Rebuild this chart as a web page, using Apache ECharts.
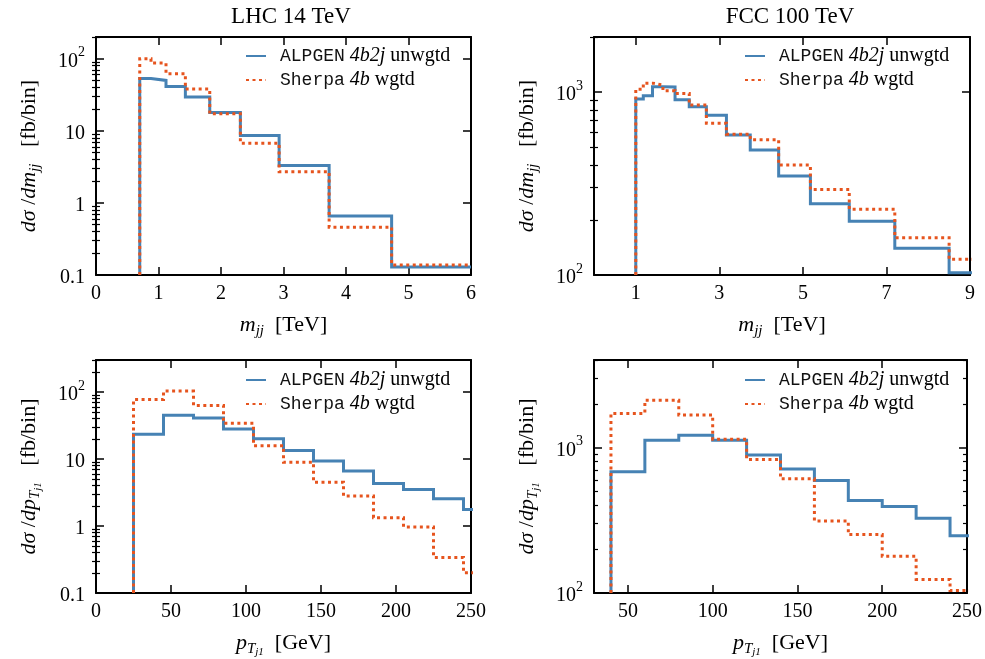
<!DOCTYPE html>
<html><head><meta charset="utf-8">
<script src="https://cdn.jsdelivr.net/npm/echarts@6/dist/echarts.min.js"></script>
<style>html,body{margin:0;padding:0;background:#fff}#c{width:985px;height:659px}</style>
</head><body><div id="c"></div>
<script>
// ---- data ----
const seriesNames = ['ALPGEN 4b2j unwgtd', 'Sherpa 4b wgtd'];
const panelTitles = ['LHC 14 TeV', 'FCC 100 TeV'];

const lhcMjjEdges = [0.70, 0.88, 1.12, 1.43, 1.82, 2.31, 2.93, 3.73, 4.73, 6.0];
const lhcMjjAlpgen = [53, 50, 41, 29.5, 18, 8.6, 3.3, 0.66, 0.129];
const lhcMjjSherpa = [100, 87, 62, 38, 17.2, 6.7, 2.7, 0.46, 0.138];

const fccMjjEdges = [1.0, 1.18, 1.40, 1.65, 1.94, 2.28, 2.69, 3.17, 3.74, 4.42, 5.18, 6.11, 7.2, 8.5, 10.0];
const fccMjjAlpgen = [916, 955, 1070, 1065, 908, 832, 747, 583, 482, 348, 245, 197, 140, 103];
const fccMjjSherpa = [1035, 1119, 1092, 1018, 982, 850, 676, 588, 549, 399, 293, 229, 160, 122];

const lhcPtEdges = [25, 45, 65, 85, 105, 125, 145, 165, 185, 205, 225, 245, 265];
const lhcPtAlpgen = [23.4, 45, 41, 28, 20, 13.4, 9.3, 6.6, 4.3, 3.5, 2.55, 1.76];
const lhcPtSherpa = [77, 103, 63, 34, 15.8, 8.9, 4.5, 2.8, 1.33, 0.97, 0.34, 0.2];

const fccPtEdges = [40, 60, 80, 100, 120, 140, 160, 180, 200, 220, 240, 260];
const fccPtAlpgen = [683, 1122, 1213, 1121, 890, 713, 594, 433, 393, 327, 248];
const fccPtSherpa = [1718, 2115, 1676, 1139, 828, 610, 313, 252, 179, 124, 104];

const lhcMjjXTicks = [0, 1, 2, 3, 4, 5, 6];
const fccMjjXTicks = [1, 3, 5, 7, 9];
const lhcPtXTicks = [0, 50, 100, 150, 200, 250];
const fccPtXTicks = [50, 100, 150, 200, 250];
const lhcYTicks = [0.1, 1, 10, 100];
const fccYTicks = [100, 1000];

// ---- layout / style ----
const BLUE = '#4682b4', RED = '#e6541e';
const SERIF = 'Liberation Serif', MONO = 'Liberation Mono';

const panels = [
  {grid:{left:96, top:37, width:375, height:238}, edges:lhcMjjEdges, a:lhcMjjAlpgen, s:lhcMjjSherpa,
   xmin:0, xmax:6, xt:lhcMjjXTicks, ymin:0.1, ymax:200, yt:lhcYTicks,
   xname:'{i|m}{s|jj}  [TeV]', yname:'{i|dσ} /{i|dm}{s|jj}   [fb/bin]', legX:240, legY:40},
  {grid:{left:594, top:37, width:376, height:238}, edges:fccMjjEdges, a:fccMjjAlpgen, s:fccMjjSherpa,
   xmin:0, xmax:9, xt:fccMjjXTicks, ymin:100, ymax:2000, yt:fccYTicks,
   xname:'{i|m}{s|jj}  [TeV]', yname:'{i|dσ} /{i|dm}{s|jj}   [fb/bin]', legX:739, legY:40},
  {grid:{left:96, top:360, width:375, height:238}, edges:lhcPtEdges, a:lhcPtAlpgen, s:lhcPtSherpa,
   xmin:0, xmax:250, xt:lhcPtXTicks, ymin:0.1, ymax:300, yt:lhcYTicks,
   xname:'{i|p}{s|T}{ss|j1}  [GeV]', yname:'{i|dσ} /{i|dp}{s|T}{ss|j1}   [fb/bin]', legX:240, legY:364},
  {grid:{left:594, top:360, width:376, height:238}, edges:fccPtEdges, a:fccPtAlpgen, s:fccPtSherpa,
   xmin:30, xmax:250, xt:fccPtXTicks, ymin:100, ymax:4000, yt:fccYTicks,
   xname:'{i|p}{s|T}{ss|j1}  [GeV]', yname:'{i|dσ} /{i|dp}{s|T}{ss|j1}   [fb/bin]', legX:739, legY:364}
];

function stepData(edges, vals, floor) {
  const d = [[edges[0], floor]];
  for (let i = 0; i < vals.length; i++) {
    d.push([edges[i], vals[i]]);
    d.push([edges[i + 1], vals[i]]);
  }
  return d;
}
function minorTicks(min, max) {
  const out = [];
  for (let e = Math.floor(Math.log10(min)); e <= Math.ceil(Math.log10(max)); e++) {
    for (let k = 2; k <= 9; k++) {
      const v = +(k * Math.pow(10, e)).toPrecision(6);
      if (v > min && v <= max * 1.0001) out.push(v);
    }
  }
  return out;
}
function yFmt(v) {
  if (v >= 100) return '{b|10}{p|' + Math.round(Math.log10(v)) + '}';
  return '{b|' + String(+v.toPrecision(3)) + '}';
}

const labelRich = {
  b: {fontFamily: SERIF, fontSize: 20, color: '#000', lineHeight: 26, verticalAlign: 'bottom'},
  p: {fontFamily: SERIF, fontSize: 14, color: '#000', lineHeight: 26, verticalAlign: 'top'}
};
const nameRich = {
  i: {fontFamily: SERIF, fontStyle: 'italic', fontSize: 22, color: '#000', lineHeight: 30, verticalAlign: 'middle'},
  s: {fontFamily: SERIF, fontStyle: 'italic', fontSize: 15, color: '#000', lineHeight: 30, verticalAlign: 'bottom', padding: [0,0,1,0]},
  ss: {fontFamily: SERIF, fontStyle: 'italic', fontSize: 11, color: '#000', lineHeight: 30, verticalAlign: 'bottom'}
};
const axisLineStyle = {show: true, onZero: false, lineStyle: {color: '#000', width: 2}};

const grids = [], xAxes = [], yAxes = [], series = [], legends = [], graphics = [];
panels.forEach((p, k) => {
  grids.push(Object.assign({containLabel: false}, p.grid));
  // bottom x
  xAxes.push({type: 'value', gridIndex: k, position: 'bottom', min: p.xmin, max: p.xmax,
    axisLine: axisLineStyle, splitLine: {show: false},
    axisTick: {show: true, inside: true, length: 8, customValues: p.xt, lineStyle: {color: '#000', width: 1.5}},
    axisLabel: {show: true, customValues: p.xt, margin: 9, fontFamily: SERIF, fontSize: 20, color: '#000'},
    name: p.xname, nameLocation: 'middle', nameGap: 35,
    nameTextStyle: {fontFamily: SERIF, fontSize: 22, color: '#000', rich: nameRich}});
  // top x
  xAxes.push({type: 'value', gridIndex: k, position: 'top', min: p.xmin, max: p.xmax,
    axisLine: axisLineStyle, splitLine: {show: false}, axisLabel: {show: false},
    axisTick: {show: true, inside: true, length: 8, customValues: p.xt, lineStyle: {color: '#000', width: 1.5}}});
  const minors = minorTicks(p.ymin, p.ymax);
  // left major
  yAxes.push({type: 'log', logBase: 10, gridIndex: k, position: 'left', min: p.ymin, max: p.ymax,
    axisLine: axisLineStyle, splitLine: {show: false}, minorTick: {show: false},
    axisTick: {show: true, inside: true, length: 8, customValues: p.yt, lineStyle: {color: '#000', width: 1.5}},
    axisLabel: {show: true, customValues: p.yt, margin: 11, formatter: yFmt, rich: labelRich},
    name: p.yname, nameLocation: 'middle', nameRotate: 90, nameGap: 52,
    nameTextStyle: {fontFamily: SERIF, fontSize: 22, color: '#000', rich: nameRich}});
  // left minor
  yAxes.push({type: 'log', logBase: 10, gridIndex: k, position: 'left', min: p.ymin, max: p.ymax,
    axisLine: {show: false}, splitLine: {show: false}, axisLabel: {show: false},
    axisTick: {show: true, inside: true, length: 4, customValues: minors, lineStyle: {color: '#000', width: 1.2}}});
  // right major
  yAxes.push({type: 'log', logBase: 10, gridIndex: k, position: 'right', min: p.ymin, max: p.ymax,
    axisLine: axisLineStyle, splitLine: {show: false}, axisLabel: {show: false},
    axisTick: {show: true, inside: true, length: 8, customValues: p.yt, lineStyle: {color: '#000', width: 1.5}}});
  // right minor
  yAxes.push({type: 'log', logBase: 10, gridIndex: k, position: 'right', min: p.ymin, max: p.ymax,
    axisLine: {show: false}, splitLine: {show: false}, axisLabel: {show: false},
    axisTick: {show: true, inside: true, length: 4, customValues: minors, lineStyle: {color: '#000', width: 1.2}}});

  series.push({type: 'line', name: seriesNames[0], xAxisIndex: 2 * k, yAxisIndex: 4 * k,
    data: stepData(p.edges, p.a, p.ymin), showSymbol: false, symbol: 'none', clip: true, silent: true,
    lineStyle: {color: BLUE, width: 3, cap: 'butt', join: 'miter'}, itemStyle: {color: BLUE}, z: 3});
  series.push({type: 'line', name: seriesNames[1], xAxisIndex: 2 * k, yAxisIndex: 4 * k,
    data: stepData(p.edges, p.s, p.ymin), showSymbol: false, symbol: 'none', clip: true, silent: true,
    lineStyle: {color: RED, width: 3, type: [3, 3.5], cap: 'butt', join: 'miter'}, itemStyle: {color: RED}, z: 4});

  legends.push({orient: 'vertical', left: p.legX, top: p.legY, itemWidth: 20, itemHeight: 14, itemGap: 2,
    data: seriesNames, selectedMode: false,
    itemStyle: {opacity: 0, borderWidth: 0},
    textStyle: {fontFamily: SERIF, fontSize: 20, color: '#000', lineHeight: 22,
      rich: {
        g: {width: 9},
        m: {fontFamily: MONO, fontSize: 18, color: '#111', lineHeight: 22},
        i: {fontFamily: SERIF, fontStyle: 'italic', fontSize: 20, color: '#000', lineHeight: 22},
        r: {fontFamily: SERIF, fontSize: 20, color: '#000', lineHeight: 22}
      }},
    formatter: n => n === seriesNames[0] ? '{g|}{m|ALPGEN} {i|4b2j} {r|unwgtd}' : '{g|}{m|Sherpa} {i|4b} {r|wgtd}'
  });
});

graphics.push({type: 'text', x: 291, y: 17, style: {text: panelTitles[0], fontFamily: SERIF, fontSize: 23, fill: '#000', textAlign: 'center', textVerticalAlign: 'middle'}});
graphics.push({type: 'text', x: 790, y: 17, style: {text: panelTitles[1], fontFamily: SERIF, fontSize: 23, fill: '#000', textAlign: 'center', textVerticalAlign: 'middle'}});

const chart = echarts.init(document.getElementById('c'), null, {renderer: 'canvas'});
chart.setOption({
  animation: false,
  backgroundColor: '#fff',
  grid: grids, xAxis: xAxes, yAxis: yAxes, series: series, legend: legends, graphic: graphics
});
</script>
</body></html>
